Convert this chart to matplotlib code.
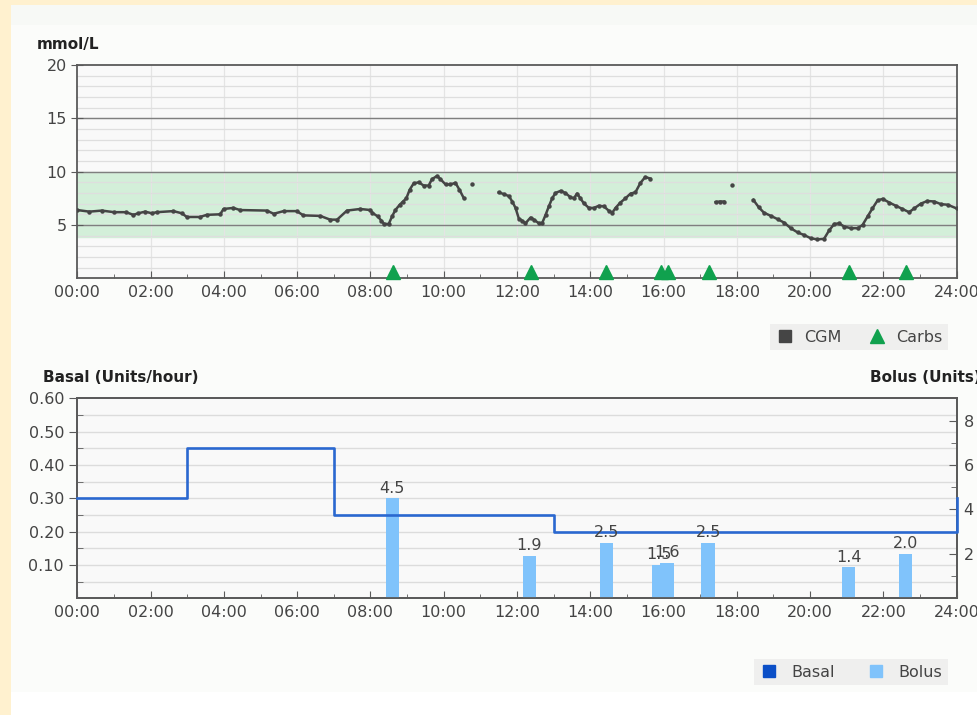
import numpy as np
import matplotlib.pyplot as plt
from matplotlib.lines import Line2D
from matplotlib.patches import Rectangle

plt.rcParams['font.family'] = ['DejaVu Sans']

# ============================================================
# Data
# ============================================================

# CGM readings (hour of day, mmol/L); None marks a gap in the sensor data
cgm_hours = [
    0.0, 0.33, 0.67, 1.0, 1.33, 1.53, 1.67, 1.85, 2.03, 2.17, 2.62, 2.85,
    2.99, 3.35, 3.53, 3.9, 3.99, 4.26, 4.44, 5.17, 5.36, 5.63, 5.99, 6.17,
    6.63, 6.9, 7.09, 7.36, 7.72, 8.0, 8.05, 8.2, 8.3, 8.37, 8.5, 8.59,
    8.68, 8.8, 8.89, 8.98, 9.07, 9.18, 9.32, 9.45, 9.59, 9.68, 9.82, 9.91,
    10.05, 10.18, 10.32, 10.43, 10.55, None, 10.76, None,
    11.5, 11.64, 11.78, 11.87, 11.96, 12.05, 12.14, 12.23, 12.37, 12.46,
    12.6, 12.69, 12.78, 12.87, 12.96, 13.05, 13.19, 13.32, 13.46, 13.55,
    13.64, 13.73, 13.82, 13.96, 14.1, 14.23, 14.37, 14.5, 14.6, 14.69,
    14.82, 14.96, 15.1, 15.23, 15.37, 15.5, 15.64, None,
    17.42, 17.53, 17.65, None, 17.88, None,
    18.45, 18.6, 18.74, 18.93, 19.11, 19.3, 19.47, 19.66, 19.84, 20.02,
    20.2, 20.38, 20.52, 20.66, 20.79, 20.93, 21.11, 21.3, 21.43, 21.57,
    21.7, 21.84, 21.98, 22.16, 22.34, 22.52, 22.7, 22.84, 23.02, 23.2,
    23.39, 23.57, 23.75, 24.0,
]
cgm_values = [
    6.4, 6.25, 6.35, 6.2, 6.2, 5.95, 6.1, 6.25, 6.1, 6.2, 6.3, 6.1,
    5.75, 5.75, 5.95, 6.0, 6.5, 6.6, 6.4, 6.35, 6.05, 6.3, 6.3, 5.9,
    5.85, 5.5, 5.5, 6.35, 6.5, 6.4, 6.15, 5.8, 5.4, 5.1, 5.1, 5.8,
    6.4, 6.9, 7.2, 7.5, 8.3, 8.9, 9.0, 8.7, 8.7, 9.3, 9.6, 9.3,
    8.8, 8.8, 8.95, 8.3, 7.5, None, 8.85, None,
    8.05, 7.9, 7.7, 7.2, 6.6, 5.6, 5.4, 5.15, 5.7, 5.5,
    5.15, 5.2, 5.95, 6.75, 7.5, 8.0, 8.2, 8.0, 7.6, 7.5,
    7.95, 7.5, 7.05, 6.6, 6.6, 6.8, 6.75, 6.35, 6.15, 6.6,
    7.1, 7.5, 7.95, 8.05, 8.95, 9.5, 9.35, None,
    7.15, 7.2, 7.2, None, 8.75, None,
    7.35, 6.65, 6.15, 5.85, 5.55, 5.2, 4.7, 4.3, 4.05, 3.75,
    3.65, 3.7, 4.5, 5.1, 5.15, 4.85, 4.7, 4.7, 5.0, 5.8,
    6.55, 7.3, 7.45, 7.1, 6.8, 6.5, 6.2, 6.55, 7.0, 7.25,
    7.2, 6.95, 6.9, 6.55,
]

target_low = 3.9
target_high = 10.0

# Carb entries (hour of day)
carb_hours = [8.61, 12.37, 14.44, 15.93, 16.13, 17.23, 21.05, 22.61]

# Bolus doses (hour of day, units)
bolus_hours = [8.6, 12.34, 14.44, 15.87, 16.1, 17.22, 21.05, 22.6]
bolus_units = [4.5, 1.9, 2.5, 1.5, 1.6, 2.5, 1.4, 2.0]

# Basal schedule (start hour, units/hour); last point closes the day
basal_hours = [0, 3, 7, 13, 24, 24]
basal_rates = [0.30, 0.45, 0.25, 0.20, 0.20, 0.30]

hour_ticks = list(range(0, 25, 2))
hour_labels = [f"{h:02d}:00" for h in hour_ticks]

# ============================================================
# Style
# ============================================================

TEXT = "#444444"
SPINE = "#5a5a5a"
CGM_COLOR = "#454545"
CARB_COLOR = "#10a14e"
BASAL_COLOR = "#2a68d0"
BASAL_LEGEND = "#0b4fc7"
BOLUS_COLOR = "#80c3fb"
PLOT_BG = "#f9f9f9"

fig = plt.figure(figsize=(9.77, 7.15), dpi=100, facecolor="#fbfcfa")
W, H = 977, 715


def px_axes(left, top, right, bottom):
    return [left / W, 1 - bottom / H, (right - left) / W, (bottom - top) / H]


# cream page border and panel shading
fig.patches.append(Rectangle((0, 0), 11 / W, 1, transform=fig.transFigure,
                             facecolor="#fff1cf", edgecolor="none", zorder=-5))
fig.patches.append(Rectangle((0, 1 - 5 / H), 1, 5 / H, transform=fig.transFigure,
                             facecolor="#fff1cf", edgecolor="none", zorder=-5))
fig.patches.append(Rectangle((11 / W, 0), 1, 23 / H, transform=fig.transFigure,
                             facecolor="#ffffff", edgecolor="none", zorder=-5))
fig.patches.append(Rectangle((11 / W, 1 - 25 / H), 1, 20 / H, transform=fig.transFigure,
                             facecolor="#f7f9f6", edgecolor="none", zorder=-5))


def style_time_axis(ax):
    ax.set_xlim(0, 24)
    ax.set_xticks(hour_ticks)
    ax.set_xticklabels(hour_labels)
    ax.set_xticks(range(1, 24, 2), minor=True)
    ax.tick_params(axis="x", which="both", direction="in", colors=SPINE,
                   labelcolor=TEXT, labelsize=11.5, pad=5)
    ax.tick_params(axis="x", which="major", length=5)
    ax.tick_params(axis="x", which="minor", length=3)
    for s in ax.spines.values():
        s.set_color(SPINE)
        s.set_linewidth(1.3)


# ============================================================
# CGM panel
# ============================================================

ax1 = fig.add_axes(px_axes(77.3, 65, 956.7, 278.3))
ax1.set_facecolor(PLOT_BG)
style_time_axis(ax1)
ax1.set_ylim(0, 20)
ax1.set_yticks([5, 10, 15, 20])
ax1.set_yticks(range(1, 20), minor=True)
ax1.tick_params(axis="y", which="major", direction="inout", length=8,
                colors=SPINE, labelcolor=TEXT, labelsize=11.5)
ax1.tick_params(axis="y", which="minor", length=0)

ax1.axhspan(target_low, target_high, color="#d3efd9", zorder=0)
for h in range(1, 20):
    ax1.axhline(h, color="#dedede", lw=0.9, zorder=0.5)
for h in [5, 10, 15]:
    ax1.axhline(h, color="#7f7f7f", lw=1.0, zorder=0.6)
for h in hour_ticks[1:-1]:
    ax1.axvline(h, color="#e4e4e4", lw=0.9, zorder=0.4)

cx = np.array([np.nan if v is None else v for v in cgm_hours], dtype=float)
cy = np.array([np.nan if v is None else v for v in cgm_values], dtype=float)
ax1.plot(cx, cy, color=CGM_COLOR, lw=1.8, marker="o", markersize=3.2,
         markeredgewidth=0, zorder=3)
ax1.plot(carb_hours, [0.55] * len(carb_hours), linestyle="none", marker="^",
         markersize=10, color=CARB_COLOR, zorder=4, clip_on=False)

fig.text(37 / W, 1 - 45 / H, "mmol/L", fontsize=11, fontweight="bold",
         color="#222222", va="center", ha="left")

leg1 = fig.legend(
    handles=[Line2D([], [], marker="s", linestyle="none", color=CGM_COLOR, markersize=8),
             Line2D([], [], marker="^", linestyle="none", color=CARB_COLOR, markersize=10)],
    labels=["CGM", "Carbs"], ncol=2, loc="upper right",
    bbox_to_anchor=(956 / W, 1 - 316 / H), frameon=True, fancybox=False,
    fontsize=11.5, handletextpad=0.6, columnspacing=1.6, borderpad=0.35,
    handlelength=1.2)
leg1.get_frame().set_facecolor("#ececec")
leg1.get_frame().set_edgecolor("none")
for t in leg1.get_texts():
    t.set_color(TEXT)

# ============================================================
# Insulin panel
# ============================================================

ax2 = fig.add_axes(px_axes(77.3, 398.3, 956.7, 598.3))
ax2.set_facecolor(PLOT_BG)
style_time_axis(ax2)
ax2.set_ylim(0, 0.6)
ax2.set_yticks([0.1, 0.2, 0.3, 0.4, 0.5, 0.6])
ax2.set_yticklabels(["0.10", "0.20", "0.30", "0.40", "0.50", "0.60"])
ax2.set_yticks(np.arange(0.05, 0.6, 0.1), minor=True)
ax2.tick_params(axis="y", which="major", direction="out", length=6,
                colors=SPINE, labelcolor=TEXT, labelsize=11.5)
ax2.tick_params(axis="y", which="minor", direction="in", length=4, colors=SPINE)
for v in np.arange(0.05, 0.6, 0.05):
    ax2.axhline(v, color="#dcdcdc", lw=1.0, zorder=0.5)

ax3 = ax2.twinx()
ax3.set_xlim(0, 24)
ax3.set_ylim(0, 9)
ax3.set_yticks([2, 4, 6, 8])
ax3.set_yticks([1, 3, 5, 7], minor=True)
ax3.tick_params(axis="y", which="major", direction="in", length=6,
                colors=SPINE, labelcolor=TEXT, labelsize=11.5, pad=5)
ax3.tick_params(axis="y", which="minor", direction="in", length=4, colors=SPINE)
for s in ax3.spines.values():
    s.set_color(SPINE)
    s.set_linewidth(1.3)

ax3.bar(bolus_hours, bolus_units, width=0.37, color=BOLUS_COLOR, zorder=2)
for h, u in zip(bolus_hours, bolus_units):
    ax3.text(h, u + 0.12, f"{u:.1f}", ha="center", va="bottom",
             fontsize=11.5, color=TEXT, zorder=4)

ax3.plot(basal_hours, basal_rates, drawstyle="steps-post", color=BASAL_COLOR,
         lw=1.9, transform=ax2.transData, zorder=3, clip_on=False)

fig.text(43 / W, 1 - 378 / H, "Basal (Units/hour)", fontsize=11,
         fontweight="bold", color="#222222", va="center", ha="left")
fig.text(870 / W, 1 - 378 / H, "Bolus (Units)", fontsize=11,
         fontweight="bold", color="#222222", va="center", ha="left")

leg2 = fig.legend(
    handles=[Line2D([], [], marker="s", linestyle="none", color=BASAL_LEGEND, markersize=8),
             Line2D([], [], marker="s", linestyle="none", color=BOLUS_COLOR, markersize=8)],
    labels=["Basal", "Bolus"], ncol=2, loc="upper right",
    bbox_to_anchor=(956 / W, 1 - 651 / H), frameon=True, fancybox=False,
    fontsize=11.5, handletextpad=0.8, columnspacing=2.0, borderpad=0.35,
    handlelength=1.2)
leg2.get_frame().set_facecolor("#ececec")
leg2.get_frame().set_edgecolor("none")
for t in leg2.get_texts():
    t.set_color(TEXT)

fig.savefig("out.png", dpi=100, facecolor=fig.get_facecolor())
